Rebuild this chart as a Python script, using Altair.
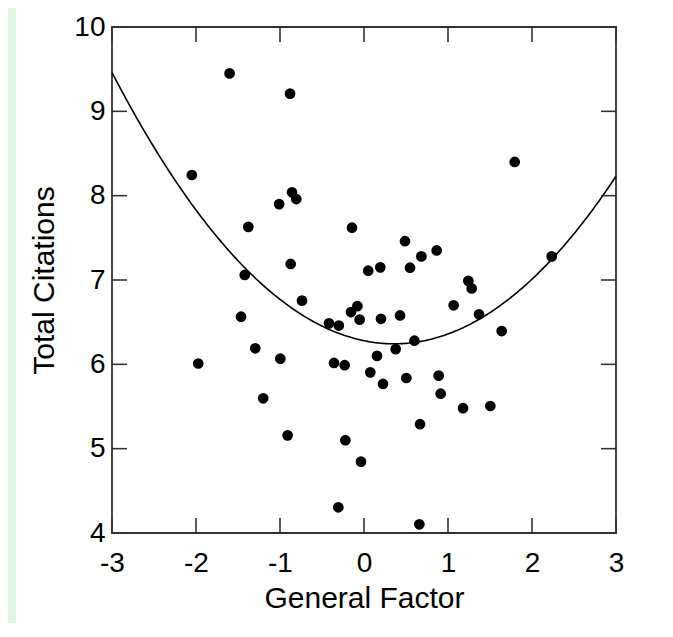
import altair as alt
import pandas as pd

# Scatter data
general_factor = [-1.60, -0.88, -2.05, -0.857, -0.806, -1.01, -1.377, -0.143, -0.873, -1.42,
                  0.05, 0.194, -0.738, 1.794, 2.235, 0.488, 0.865, 0.683, 0.548, 1.242,
                  1.282, -1.464, -0.155, -0.079, -0.052, 0.202, -0.417, -0.30, -1.294, -1.973,
                  -0.996, -0.357, -0.23, 0.155, 0.075, 0.226, -1.20, -0.909, -0.222, -0.036,
                  -0.306, 1.067, 0.429, 1.369, 1.639, 0.60, 0.377, 0.504, 0.889, 0.913,
                  1.179, 1.504, 0.667, 0.659]
total_citations = [9.45, 9.21, 8.245, 8.04, 7.96, 7.90, 7.63, 7.62, 7.19, 7.06,
                   7.11, 7.15, 6.755, 8.40, 7.28, 7.46, 7.35, 7.28, 7.146, 6.99,
                   6.90, 6.565, 6.62, 6.69, 6.53, 6.54, 6.486, 6.46, 6.19, 6.01,
                   6.067, 6.016, 5.99, 6.10, 5.905, 5.767, 5.597, 5.158, 5.10, 4.846,
                   4.305, 6.70, 6.58, 6.593, 6.395, 6.28, 6.18, 5.838, 5.866, 5.652,
                   5.48, 5.506, 5.29, 4.103]

# Quadratic fit curve coefficients (c0 + c1*x + c2*x^2)
curve_coeffs = [6.28, -0.205, 0.285]

x_ticks = [-3, -2, -1, 0, 1, 2, 3]
y_ticks = [4, 5, 6, 7, 8, 9, 10]

W, H = 504, 506
TICK = 15
FRAME = "#333333"
FONT = "Liberation Sans"

pts = pd.DataFrame({"x": general_factor, "y": total_citations})

xscale = alt.Scale(domain=[-3, 3], nice=False, zero=False)
yscale = alt.Scale(domain=[4, 10], nice=False, zero=False)

points = alt.Chart(pts).mark_circle(size=115, color="black", opacity=1).encode(
    x=alt.X("x:Q", scale=xscale,
            axis=alt.Axis(values=x_ticks, ticks=False, domain=False, grid=False,
                          labelExpr="'' + datum.value",
                          labelFontSize=28, labelFont=FONT, labelColor="black",
                          labelPadding=16, labelFlush=False,
                          title="General Factor", titleFontSize=30, titleFont=FONT,
                          titleFontWeight="normal", titleColor="black",
                          titleBaseline="alphabetic", titleY=74)),
    y=alt.Y("y:Q", scale=yscale,
            axis=alt.Axis(values=y_ticks, ticks=False, domain=False, grid=False,
                          labelExpr="'' + datum.value",
                          labelFontSize=28, labelFont=FONT, labelColor="black",
                          labelPadding=7, labelFlush=False,
                          title="Total Citations", titleFontSize=30, titleFont=FONT,
                          titleFontWeight="normal", titleColor="black",
                          titleAngle=-90, titleBaseline="alphabetic",
                          titleX=-59, titleY=H / 2, titleAlign="center")),
)

curve = alt.Chart(alt.sequence(-3, 3.001, 0.02, as_="x")).transform_calculate(
    y=f"{curve_coeffs[0]} + ({curve_coeffs[1]})*datum.x + {curve_coeffs[2]}*datum.x*datum.x"
).mark_line(color="black", strokeWidth=1.6).encode(
    x=alt.X("x:Q", scale=xscale),
    y=alt.Y("y:Q", scale=yscale),
)

xt = pd.DataFrame({"x": x_ticks})
yt = pd.DataFrame({"y": y_ticks})

bottom_ticks = alt.Chart(xt).mark_rule(color=FRAME, strokeWidth=1.6).encode(
    x=alt.X("x:Q", scale=xscale), y=alt.value(H), y2=alt.value(H - TICK))
top_ticks = alt.Chart(xt).mark_rule(color=FRAME, strokeWidth=1.6).encode(
    x=alt.X("x:Q", scale=xscale), y=alt.value(0), y2=alt.value(TICK))
left_ticks = alt.Chart(yt).mark_rule(color=FRAME, strokeWidth=1.6).encode(
    y=alt.Y("y:Q", scale=yscale), x=alt.value(0), x2=alt.value(TICK))
right_ticks = alt.Chart(yt).mark_rule(color=FRAME, strokeWidth=1.6).encode(
    y=alt.Y("y:Q", scale=yscale), x=alt.value(W - TICK), x2=alt.value(W))

strip = alt.Chart(pd.DataFrame({"a": [0]})).mark_rect(color="#def5e0").encode(
    x=alt.value(-104), x2=alt.value(-96), y=alt.value(-19), y2=alt.value(H + 90))

chart = alt.layer(
    strip, curve, bottom_ticks, top_ticks, left_ticks, right_ticks, points
).properties(
    width=W, height=H,
    padding={"left": 104, "top": 19, "right": 49, "bottom": 90},
    autosize=alt.AutoSizeParams(type="none"),
    background="white",
).configure_view(
    stroke=FRAME, strokeWidth=1.8
)

chart.save("out.html", embed_options={"renderer": "svg", "actions": False})
